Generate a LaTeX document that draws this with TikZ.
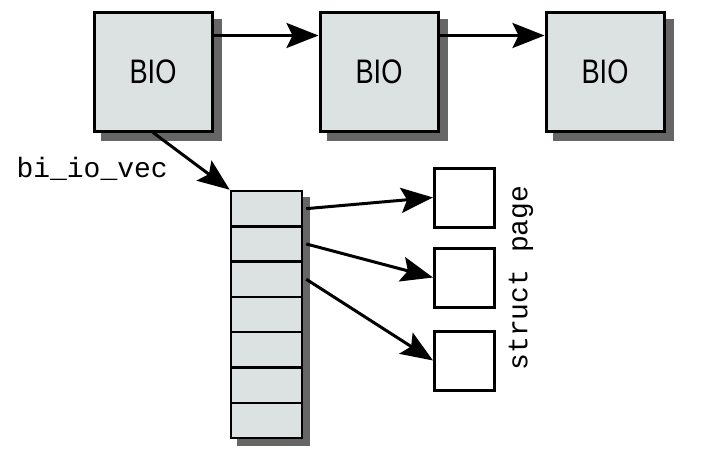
\documentclass[tikz,border=0pt]{standalone}
\usepackage{fontspec}
\usepackage{tikz}
\usetikzlibrary{arrows.meta, backgrounds}

\newfontfamily\biofont[FakeStretch=0.8]{Liberation Sans}
\setmonofont{Liberation Mono}

\definecolor{boxgray}{HTML}{DCE1E2}
\definecolor{shadegray}{HTML}{666666}

\tikzset{
  biobox/.style={draw, line width=3pt, fill=boxgray, minimum width=118pt,
    minimum height=119pt, font=\biofont\fontsize{34}{34}\selectfont},
  vecbox/.style={draw, line width=2.5pt, fill=boxgray, minimum width=71pt,
    minimum height=35.3pt},
  pagebox/.style={draw, line width=3pt, fill=white, minimum width=60pt,
    minimum height=59pt},
  shade/.style={fill=shadegray},
  ptr/.style={line width=3pt, -{Stealth[length=32pt, width=25pt, inset=6pt]}},
  lbl/.style={font=\ttfamily\fontsize{28}{28}\selectfont}
}

\begin{document}
\begin{tikzpicture}[x=1pt, y=-1pt]
    \useasboundingbox (0,0) rectangle (704,458);

    % BIO chain
    \node[biobox] (bio1) at (153,71.5) {BIO};
    \node[biobox] (bio2) at (379,71.5) {BIO};
    \node[biobox] (bio3) at (605,71.5) {BIO};
    \draw[ptr] ([yshift=-25pt]bio1.north east) -- ([yshift=-25pt]bio2.north west);
    \draw[ptr] ([yshift=-25pt]bio2.north east) -- ([yshift=-25pt]bio3.north west);

    % bio_vec array
    \foreach \i in {1,...,7}
      \node[vecbox] (vec\i) at (266.5, 191+35.3*\i-17.65) {};

    % shadows
    \begin{scope}[on background layer]
      \foreach \b in {bio1,bio2,bio3}
        \fill[shade] ([shift={(8,8)}]\b.north west) rectangle ([shift={(8,8)}]\b.south east);
      \fill[shade] ([shift={(7,7)}]vec1.north west) rectangle ([shift={(7,7)}]vec7.south east);
    \end{scope}

    \node[lbl, anchor=base west] (vecname) at (13,177) {bi\_io\_vec};
    \draw[ptr] (bio1.south) -- (vec1.north west);

    % struct page boxes
    \node[pagebox] (page1) at (464.5,197.5) {};
    \node[pagebox] (page2) at (464.5,277.5) {};
    \node[pagebox] (page3) at (464.5,360.5) {};
    \node[lbl, rotate=90] (pagename) at (521,278) {struct page};

    \foreach \i in {1,2,3}
      \draw[ptr] ([xshift=3pt]vec\i.east) -- (page\i.west);
\end{tikzpicture}
\end{document}
